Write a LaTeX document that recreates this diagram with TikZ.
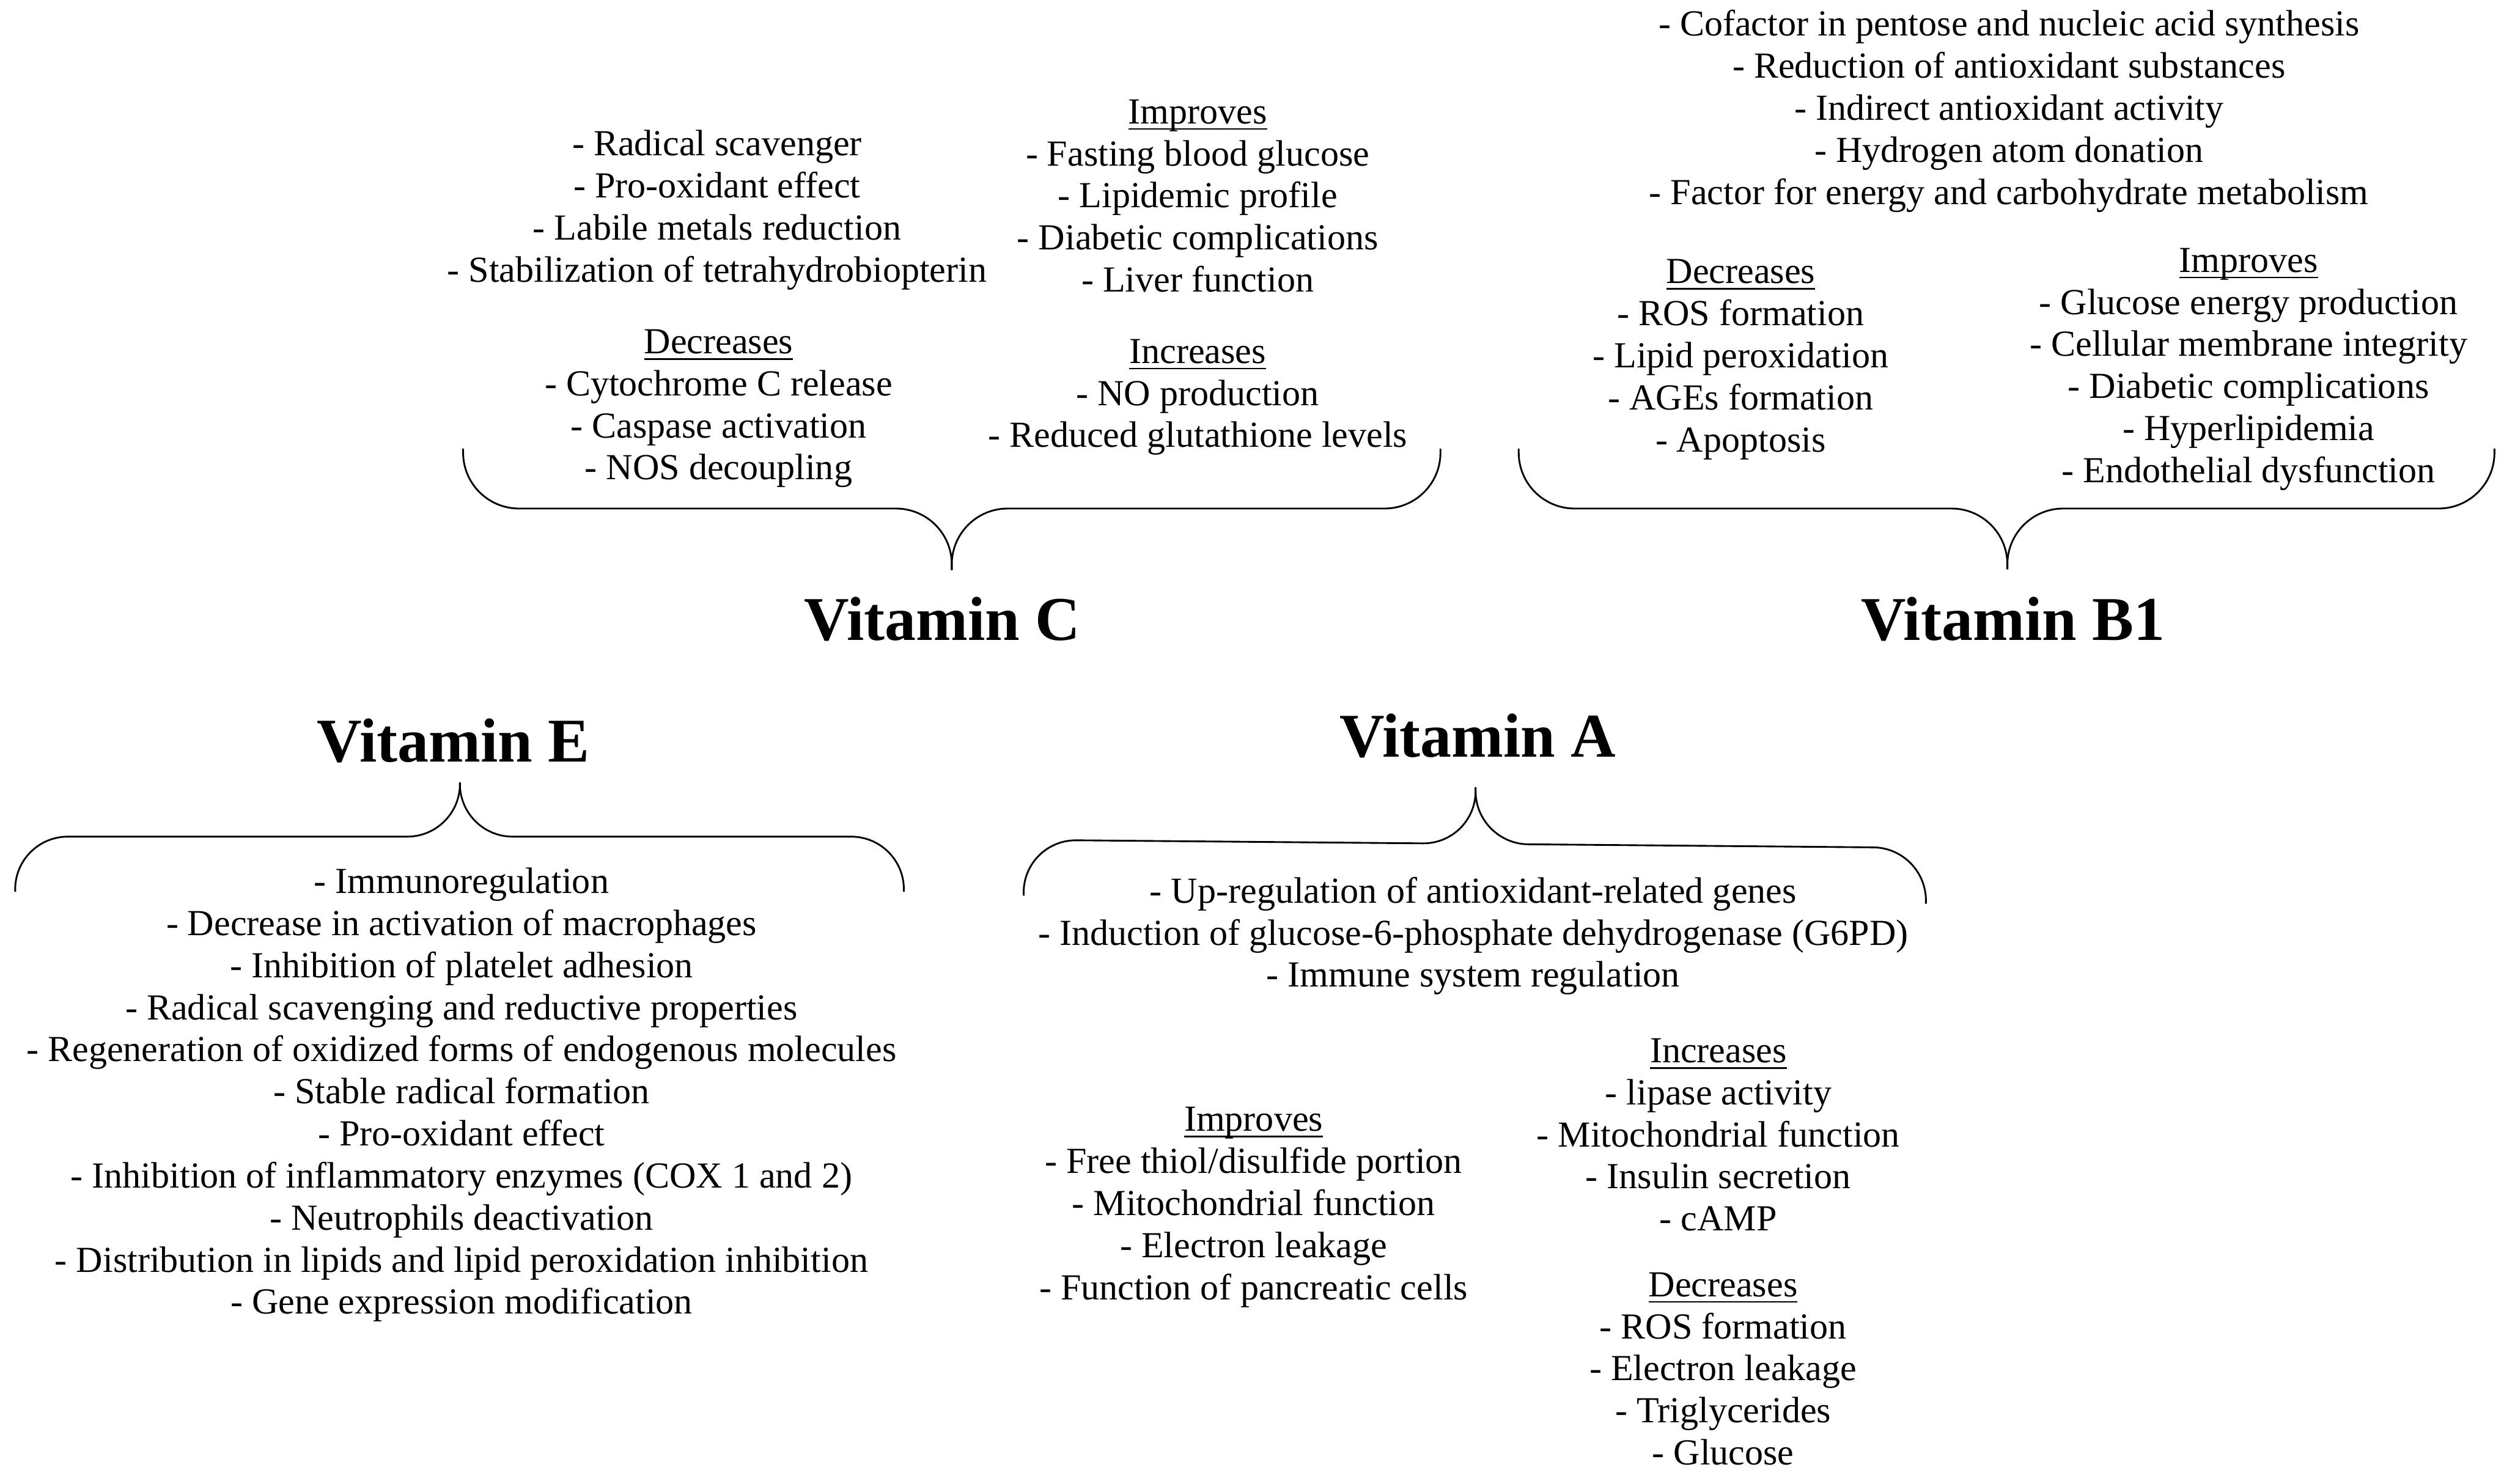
\documentclass[tikz,border=0pt]{standalone}
\usepackage{fontspec}
\setmainfont{Liberation Serif}
\usepackage{tikz}

% underlined heading of a block
\newcommand{\hdr}[1]{\setbox0\hbox{#1}\rlap{\rule[-3.9pt]{\wd0}{1pt}}\box0}

\begin{document}
\begin{tikzpicture}[
		x=1pt, y=-1pt,
		item/.style={inner sep=0pt, align=center, anchor=base, font=\fontsize{23}{26.35}\selectfont},
		vitamin/.style={inner sep=0pt, anchor=base, font=\fontsize{39}{45}\selectfont\bfseries},
		curly/.style={line width=1.1pt, rounded corners=35pt}
	]
		\path[use as bounding box, fill=white] (0,0) rectangle (1568,929.2);

		% Vitamin C (blocks placed at the baseline of their last line)
		\node[item] (cMech) at (449,176.5) {- Radical scavenger\\- Pro-oxidant effect\\- Labile metals reduction\\- Stabilization of tetrahydrobiopterin};
		\node[item] (cImp) at (750,182.8) {\hdr{Improves}\\- Fasting blood glucose\\- Lipidemic profile\\- Diabetic complications\\- Liver function};
		\node[item] (cDec) at (450,300.5) {\hdr{Decreases}\\- Cytochrome C release\\- Caspase activation\\- NOS decoupling};
		\node[item] (cInc) at (750,280.2) {\hdr{Increases}\\- NO production\\- Reduced glutathione levels};
		\draw[curly] (290,281) |- (596,318.5) -- (596,357);
		\draw[curly] (902,281) |- (596,318.5) -- (596,357);
		\node[vitamin] (vitC) at (590,401) {Vitamin C};

		% Vitamin B1
		\node[item] (bMech) at (1258,127.9) {- Cofactor in pentose and nucleic acid synthesis\\- Reduction of antioxidant substances\\- Indirect antioxidant activity\\- Hydrogen atom donation\\- Factor for energy and carbohydrate metabolism};
		\node[item] (bDec) at (1090,282.9) {\hdr{Decreases}\\- ROS formation\\- Lipid peroxidation\\- AGEs formation\\- Apoptosis};
		\node[item] (bImp) at (1408,302.2) {\hdr{Improves}\\- Glucose energy production\\- Cellular membrane integrity\\- Diabetic complications\\- Hyperlipidemia\\- Endothelial dysfunction};
		\draw[curly] (951,281) |- (1257,318.5) -- (1257,356.5);
		\draw[curly] (1562,281) |- (1257,318.5) -- (1257,356.5);
		\node[vitamin] (vitB) at (1260.5,401) {Vitamin B1};

		% Vitamin E
		\node[vitamin] (vitE) at (284,477) {Vitamin E};
		\draw[curly, rounded corners=33pt] (9.5,558.5) |- (288,524) -- (288,490);
		\draw[curly, rounded corners=33pt] (566,558.5) |- (288,524) -- (288,490);
		\node[item] (eMech) at (289,823) {- Immunoregulation\\- Decrease in activation of macrophages\\- Inhibition of platelet adhesion\\- Radical scavenging and reductive properties\\- Regeneration of oxidized forms of endogenous molecules\\- Stable radical formation\\- Pro-oxidant effect\\- Inhibition of inflammatory enzymes (COX 1 and 2)\\- Neutrophils deactivation\\- Distribution in lipids and lipid peroxidation inhibition\\- Gene expression modification};

		% Vitamin A
		\node[vitamin] (vitA) at (925.5,474) {Vitamin A};
		\draw[curly, rounded corners=33pt] (641,561) -- (641,526) -- (924,528.5) -- (924,493);
		\draw[curly, rounded corners=33pt] (1206,566) -- (1206,531) -- (924,528.5) -- (924,493);
		\node[item] (aMech) at (922.5,618.2) {- Up-regulation of antioxidant-related genes\\- Induction of glucose-6-phosphate dehydrogenase (G6PD)\\- Immune system regulation};
		\node[item] (aImp) at (785,813.9) {\hdr{Improves}\\- Free thiol/disulfide portion\\- Mitochondrial function\\- Electron leakage\\- Function of pancreatic cells};
		\node[item] (aInc) at (1076,770.9) {\hdr{Increases}\\- lipase activity\\- Mitochondrial function\\- Insulin secretion\\- cAMP};
		\node[item] (aDec) at (1079,917.4) {\hdr{Decreases}\\- ROS formation\\- Electron leakage\\- Triglycerides\\- Glucose};
	\end{tikzpicture}
\end{document}
